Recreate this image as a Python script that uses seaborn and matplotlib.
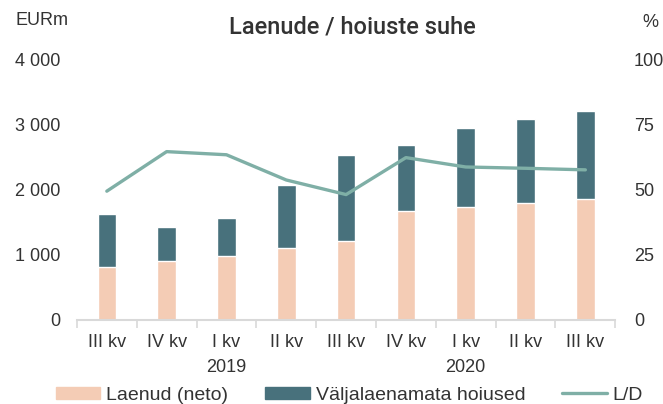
import numpy as np
import pandas as pd
import matplotlib
matplotlib.use("Agg")
import matplotlib.pyplot as plt
from matplotlib.patches import Patch
from matplotlib.lines import Line2D
from matplotlib.ticker import FuncFormatter, FixedLocator
import seaborn as sns

# data
periods = ["2018Q3", "2018Q4", "2019Q1", "2019Q2", "2019Q3", "2019Q4", "2020Q1", "2020Q2", "2020Q3"]
quarter_labels = ["III kv", "IV kv", "I kv", "II kv", "III kv", "IV kv", "I kv", "II kv", "III kv"]
loans = [810, 910, 990, 1110, 1215, 1680, 1740, 1800, 1855]          # Laenud (neto)
deposits = [825, 515, 575, 970, 1320, 1015, 1215, 1290, 1360]       # Väljalaenamata hoiused
ld_ratio = [49.5, 64.7, 63.5, 53.8, 48.2, 62.4, 58.8, 58.3, 57.7]   # L/D, %
years = {2: "2019", 6: "2020"}

c_loans = "#F4CCB5"
c_dep = "#48717C"
c_line = "#7FAFA6"
c_text = "#333333"
c_axis = "#D9D9D9"

df = pd.DataFrame({"period": periods, "loans": loans, "deposits": deposits, "ld": ld_ratio})
df["total"] = df["loans"] + df["deposits"]

sns.set_theme(style="white")
plt.rcParams["font.family"] = ["Liberation Sans", "DejaVu Sans"]
plt.rcParams["text.color"] = c_text

fig = plt.figure(figsize=(6.63, 4.04), dpi=100)
ax = fig.add_axes([0.116, 0.208, 0.812, 0.644])

sns.barplot(data=df, x="period", y="total", color=c_dep, saturation=1, width=0.31, ax=ax)
sns.barplot(data=df, x="period", y="loans", color=c_loans, saturation=1, width=0.31, ax=ax)

ax.set_xlim(-0.5, len(periods) - 0.5)
ax.set_ylim(0, 4000)
ax.set_yticks([0, 1000, 2000, 3000, 4000])
ax.yaxis.set_major_formatter(FuncFormatter(lambda v, p: f"{int(v):,}".replace(",", " ")))
ax.set_xticks(range(len(periods)))
ax.set_xticklabels(quarter_labels)
ax.xaxis.set_minor_locator(FixedLocator(np.arange(-0.5, len(periods), 1.0)))
ax.tick_params(axis="x", which="major", length=0, pad=10, labelsize=13, labelcolor=c_text)
ax.tick_params(axis="x", which="minor", length=6, width=1.2, color=c_axis, bottom=True)
ax.tick_params(axis="y", length=0, pad=12, labelsize=13, labelcolor=c_text)
ax.set_xlabel("")
ax.set_ylabel("")
for s in ["top", "left", "right"]:
    ax.spines[s].set_visible(False)
ax.spines["bottom"].set_color(c_axis)
ax.spines["bottom"].set_linewidth(1.5)

for i, y in years.items():
    ax.text(i, -0.181, y, transform=ax.get_xaxis_transform(), ha="center", va="center",
            fontsize=13, color=c_text)

ax2 = ax.twinx()
sns.lineplot(x=np.arange(len(periods)), y=df["ld"], color=c_line, linewidth=2.4, ax=ax2)
ax2.set_ylim(0, 100)
ax2.set_yticks([0, 25, 50, 75, 100])
ax2.tick_params(axis="y", length=0, pad=13.5, labelsize=13, labelcolor=c_text)
ax2.set_ylabel("")
for s in ax2.spines.values():
    s.set_visible(False)

fig.text(0.024, 0.950, "EURm", fontsize=13, va="center", ha="left")
fig.text(0.993, 0.945, "%", fontsize=13, va="center", ha="right")
fig.text(0.531, 0.933, "Laenude / hoiuste suhe", fontsize=17, fontweight="medium",
         family=["Roboto", "Liberation Sans"], color="#333333", va="center", ha="center")

handles = [Patch(color=c_loans), Patch(color=c_dep), Line2D([0], [0], color=c_line, lw=2.4)]
fig.legend(handles, ["Laenud (neto)", "Väljalaenamata hoiused", "L/D"], loc="center",
           bbox_to_anchor=(0.527, 0.022), ncol=3, frameon=False, fontsize=14,
           handlelength=2.3, handleheight=0.57, columnspacing=1.9, handletextpad=0.3,
           borderaxespad=0, borderpad=0)

fig.savefig("out.png", dpi=100)
